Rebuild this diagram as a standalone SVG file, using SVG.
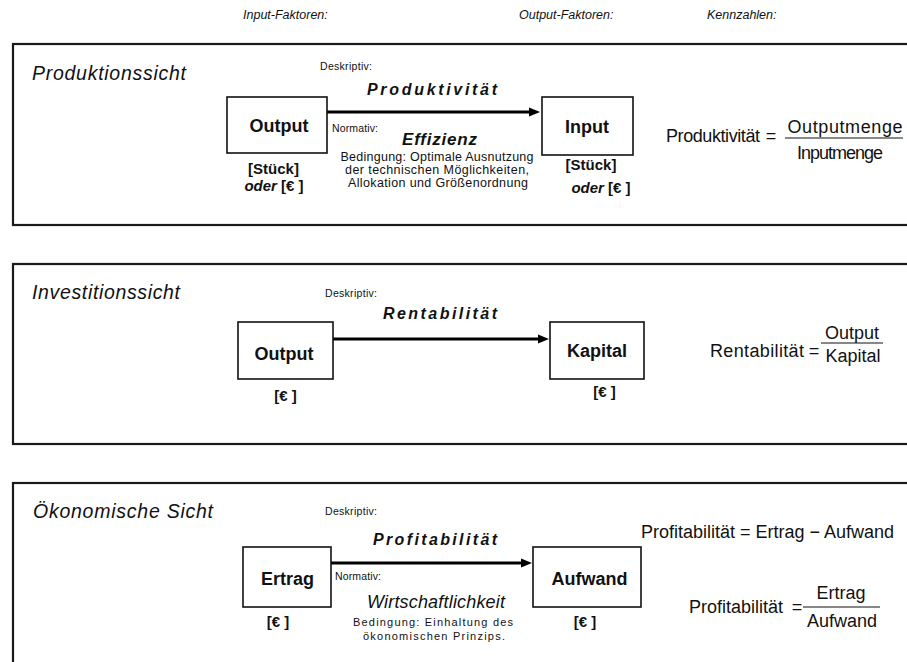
<svg xmlns="http://www.w3.org/2000/svg" width="907" height="662" viewBox="0 0 907 662">
<style>
text{font-family:"Liberation Sans",Arial,sans-serif;fill:#111}
.hdr{font-size:12.5px;font-style:italic}
.title{font-size:19.5px;font-style:italic}
.small{font-size:10.5px}
.kz{font-size:16px;font-weight:bold;font-style:italic}
.norm{font-size:17px;font-weight:bold;font-style:italic}
.cond{font-size:12.5px}
.cond3{font-size:11px}
.box{fill:#fff;stroke:#111;stroke-width:1.6}
.lbl{font-size:18px;font-weight:bold}
.unit{font-size:15px;font-weight:bold}
.f{font-size:18px}
.frame{fill:none;stroke:#1a1a1a;stroke-width:2.2}
.bar{stroke:#111;stroke-width:1.2}
.arr{stroke:#000;stroke-width:3.2;fill:none}
</style>
<defs>
<marker id="ah" markerUnits="userSpaceOnUse" markerWidth="11" markerHeight="10" refX="1" refY="5" orient="auto">
<path d="M0,0.5 L11,5 L0,9.5 z" fill="#000"/>
</marker>
</defs>

<g id="header">
<text class="hdr" x="243" y="19">Input-Faktoren:</text>
<text class="hdr" x="519" y="19">Output-Faktoren:</text>
<text class="hdr" x="707" y="19">Kennzahlen:</text>
</g>

<g id="frames">
<rect class="frame" x="13" y="44" width="920" height="181"/>
<rect class="frame" x="13" y="264" width="920" height="180"/>
<rect class="frame" x="13" y="483" width="920" height="220"/>
</g>

<g id="connectors">
<line class="arr" x1="327" y1="112" x2="530" y2="112" marker-end="url(#ah)"/>
<line class="arr" x1="333" y1="339" x2="539" y2="339" marker-end="url(#ah)"/>
<line class="arr" x1="331" y1="563" x2="522" y2="563" marker-end="url(#ah)"/>
</g>

<!-- Section 1 -->
<g id="sec1-labels">
<text class="title" x="32" y="80" textLength="154" lengthAdjust="spacing">Produktionssicht</text>
<text class="small" x="320" y="70" textLength="52" lengthAdjust="spacing">Deskriptiv:</text>
<text class="kz" x="367" y="95" textLength="130" lengthAdjust="spacing">Produktivität</text>
<text class="small" x="332" y="132" textLength="46" lengthAdjust="spacing">Normativ:</text>
<text class="norm" x="402" y="145" textLength="75" lengthAdjust="spacing">Effizienz</text>
<text class="cond" x="437" y="161" text-anchor="middle" textLength="193" lengthAdjust="spacing">Bedingung: Optimale Ausnutzung</text>
<text class="cond" x="437" y="174" text-anchor="middle" textLength="184" lengthAdjust="spacing">der technischen Möglichkeiten,</text>
<text class="cond" x="438" y="187" text-anchor="middle" textLength="180" lengthAdjust="spacing">Allokation und Größenordnung</text>
</g>
<g id="node-output-1">
<rect class="box" x="227" y="97" width="100" height="56"/>
<text class="lbl" x="279" y="132" text-anchor="middle">Output</text>
<text class="unit" x="273.5" y="174" text-anchor="middle">[Stück]</text>
<text class="unit" x="274" y="191" text-anchor="middle"><tspan font-style="italic">oder</tspan> [€ ]</text>
</g>
<g id="node-input">
<rect class="box" x="542" y="97" width="91" height="58"/>
<text class="lbl" x="587" y="133" text-anchor="middle">Input</text>
<text class="unit" x="591" y="170" text-anchor="middle">[Stück]</text>
<text class="unit" x="601" y="193" text-anchor="middle"><tspan font-style="italic">oder</tspan> [€ ]</text>
</g>
<g id="formula-1">
<text class="f" x="666" y="142" textLength="94" lengthAdjust="spacing">Produktivität</text>
<text class="f" x="771" y="142" text-anchor="middle">=</text>
<line class="bar" x1="785" y1="138" x2="903" y2="138"/>
<text class="f" x="845" y="133" text-anchor="middle" textLength="115" lengthAdjust="spacing">Outputmenge</text>
<text class="f" x="840" y="159" text-anchor="middle" textLength="86" lengthAdjust="spacing">Inputmenge</text>
</g>

<!-- Section 2 -->
<g id="sec2-labels">
<text class="title" x="32" y="299" textLength="148" lengthAdjust="spacing">Investitionssicht</text>
<text class="small" x="325" y="297" textLength="52" lengthAdjust="spacing">Deskriptiv:</text>
<text class="kz" x="383" y="319" textLength="114" lengthAdjust="spacing">Rentabilität</text>
</g>
<g id="node-output-2">
<rect class="box" x="238" y="322" width="95" height="57"/>
<text class="lbl" x="284" y="360" text-anchor="middle">Output</text>
<text class="unit" x="285.5" y="401" text-anchor="middle">[€ ]</text>
</g>
<g id="node-kapital">
<rect class="box" x="550" y="322" width="94" height="57"/>
<text class="lbl" x="597" y="357" text-anchor="middle">Kapital</text>
<text class="unit" x="604.5" y="397" text-anchor="middle">[€ ]</text>
</g>
<g id="formula-2">
<text class="f" x="710" y="357" textLength="94" lengthAdjust="spacing">Rentabilität</text>
<text class="f" x="814" y="357" text-anchor="middle">=</text>
<line class="bar" x1="821" y1="343" x2="883" y2="343"/>
<text class="f" x="852" y="339" text-anchor="middle">Output</text>
<text class="f" x="853" y="362" text-anchor="middle">Kapital</text>
</g>

<!-- Section 3 -->
<g id="sec3-labels">
<text class="title" x="33" y="518" textLength="180" lengthAdjust="spacing">Ökonomische Sicht</text>
<text class="small" x="325" y="515" textLength="52" lengthAdjust="spacing">Deskriptiv:</text>
<text class="kz" x="373" y="545" textLength="124" lengthAdjust="spacing">Profitabilität</text>
<text class="small" x="335" y="580" textLength="46" lengthAdjust="spacing">Normativ:</text>
<text class="f" x="367" y="608" font-style="italic" textLength="138" lengthAdjust="spacing">Wirtschaftlichkeit</text>
<text class="cond3" x="433" y="626" text-anchor="middle" textLength="160" lengthAdjust="spacing">Bedingung: Einhaltung des</text>
<text class="cond3" x="434" y="640" text-anchor="middle" textLength="142" lengthAdjust="spacing">ökonomischen Prinzips.</text>
</g>
<g id="node-ertrag">
<rect class="box" x="243" y="547" width="88" height="60"/>
<text class="lbl" x="287.5" y="585" text-anchor="middle">Ertrag</text>
<text class="unit" x="278" y="627" text-anchor="middle">[€ ]</text>
</g>
<g id="node-aufwand">
<rect class="box" x="533" y="547" width="108" height="60"/>
<text class="lbl" x="589.5" y="585" text-anchor="middle">Aufwand</text>
<text class="unit" x="585" y="627" text-anchor="middle">[€ ]</text>
</g>
<g id="formula-3">
<text class="f" x="641" y="538" textLength="253" lengthAdjust="spacing">Profitabilität = Ertrag − Aufwand</text>
<text class="f" x="689" y="613" textLength="94" lengthAdjust="spacing">Profitabilität</text>
<text class="f" x="797" y="613" text-anchor="middle">=</text>
<line class="bar" x1="803" y1="607" x2="880" y2="607"/>
<text class="f" x="841" y="599" text-anchor="middle">Ertrag</text>
<text class="f" x="842" y="627" text-anchor="middle">Aufwand</text>
</g>
</svg>
